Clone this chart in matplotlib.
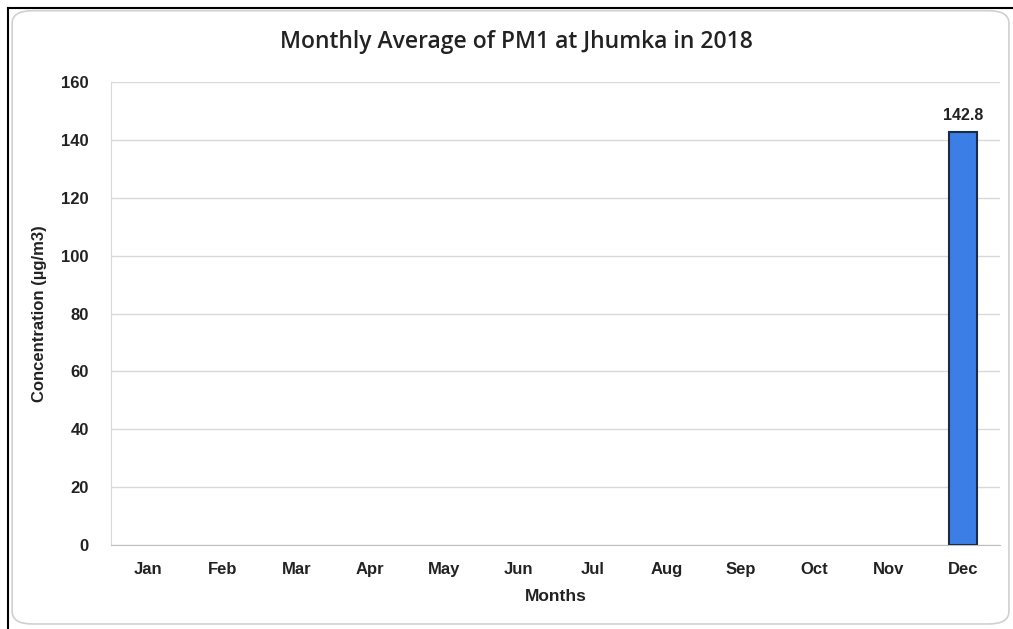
import numpy as np
import matplotlib.pyplot as plt
from matplotlib.patches import FancyBboxPatch

plt.rcParams["font.family"] = ["Liberation Sans", "DejaVu Sans"]

months = ["Jan", "Feb", "Mar", "Apr", "May", "Jun",
          "Jul", "Aug", "Sep", "Oct", "Nov", "Dec"]
# only December has data; other months are missing
pm1 = [np.nan] * 11 + [142.8]
yticks = [0, 20, 40, 60, 80, 100, 120, 140, 160]

fig = plt.figure(figsize=(10.13, 6.29), dpi=100)

# outer frame: dark edge on top/left, rounded light box inside
fig.add_artist(plt.Line2D([0.008, 0.008], [0, 0.988], color="black", lw=1.5,
                          transform=fig.transFigure))
fig.add_artist(plt.Line2D([0.008, 1.0], [0.988, 0.988], color="black", lw=1.5,
                          transform=fig.transFigure))
fig.add_artist(FancyBboxPatch((0.012, 0.008), 0.984, 0.975,
                              boxstyle="round,pad=0,rounding_size=0.02",
                              transform=fig.transFigure, facecolor="white",
                              edgecolor="#d0d0d0", lw=1.2, zorder=0))

ax = fig.add_axes([0.1096, 0.1335, 0.8774, 0.7361])
x = np.arange(len(months))
ax.bar(x, pm1, width=0.38, color="#3b7ee6", edgecolor="#1c2b45",
       linewidth=1.5, zorder=3)

for xi, v in zip(x, pm1):
    if not np.isnan(v):
        ax.text(xi, v + 3, f"{v:.1f}", ha="center", va="bottom",
                fontsize=11.5, fontweight="bold", color="#222222")

ax.set_xlim(-0.5, len(months) - 0.5)
ax.set_ylim(0, 160)
ax.set_yticks(yticks)
ax.set_xticks(x)
ax.set_xticklabels(months)
ax.tick_params(axis="both", length=0, labelsize=12, colors="#222222")
ax.tick_params(axis="x", pad=12)
ax.tick_params(axis="y", pad=16)
for lab in ax.get_xticklabels() + ax.get_yticklabels():
    lab.set_fontweight("bold")

ax.grid(axis="y", color="#d9d9d9", lw=1.0, zorder=0)
ax.set_axisbelow(True)
for s in ["top", "right"]:
    ax.spines[s].set_visible(False)
ax.spines["left"].set_color("#d9d9d9")
ax.spines["bottom"].set_color("#bfbfbf")

fig.text(0.51, 0.933, "Monthly Average of PM1 at Jhumka in 2018",
         ha="center", va="center", fontsize=16.5, fontweight="semibold",
         family=["Open Sans", "DejaVu Sans"], color="#222222")
ax.set_xlabel("Months", fontsize=12.5, fontweight="bold", color="#222222",
              labelpad=9)
ax.set_ylabel("Concentration (\u00b5g/m3)", fontsize=12, fontweight="bold",
              color="#222222", labelpad=10)

fig.savefig("out.png", dpi=100)
